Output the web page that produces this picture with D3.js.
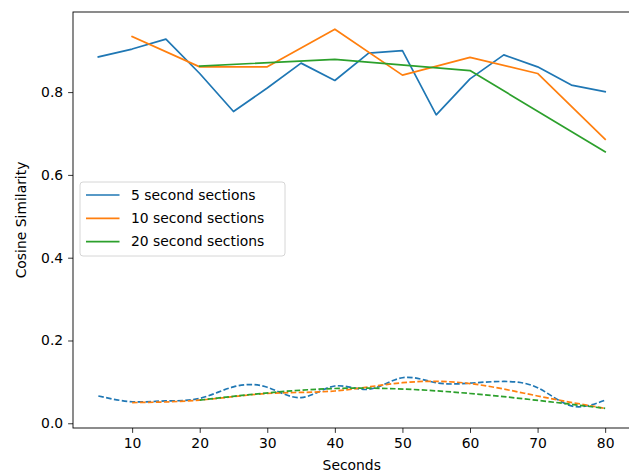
<!DOCTYPE html>
<html>
<head>
<meta charset="utf-8">
<script src="https://cdn.jsdelivr.net/npm/d3@7"></script>
<style>
  html, body { margin: 0; padding: 0; background: #fff; }
  svg { display: block; }
  text { font-family: "DejaVu Sans", sans-serif; fill: #000; }
</style>
</head>
<body>
<svg id="chart" width="629" height="475"></svg>
<script>
// ---- data ----
const seconds5  = [5, 10, 15, 20, 25, 30, 35, 40, 45, 50, 55, 60, 65, 70, 75, 80];
const seconds10 = [10, 20, 30, 40, 50, 60, 70, 80];
const seconds20 = [20, 40, 60, 80];

const sim5  = [0.885, 0.904, 0.928, 0.845, 0.753, 0.810, 0.870, 0.828, 0.894, 0.900, 0.745, 0.832, 0.890, 0.861, 0.817, 0.801];
const sim10 = [0.934, 0.861, 0.861, 0.952, 0.841, 0.884, 0.845, 0.686];
const sim20 = [0.863, 0.879, 0.852, 0.656];

const base5  = [0.066, 0.052, 0.054, 0.060, 0.088, 0.087, 0.062, 0.090, 0.082, 0.110, 0.098, 0.097, 0.101, 0.086, 0.042, 0.056];
const base10 = [0.050, 0.056, 0.072, 0.078, 0.098, 0.096, 0.066, 0.036];
const base20 = [0.056, 0.084, 0.072, 0.036];

const seriesNames = ["5 second sections", "10 second sections", "20 second sections"];
const colors = ["#1f77b4", "#ff7f0e", "#2ca02c"];
const xTicks = [10, 20, 30, 40, 50, 60, 70, 80];
const yTicks = [0.0, 0.2, 0.4, 0.6, 0.8];

(function () {
// ---- layout ----
const svg = d3.select("#chart");
const pL = 73, pR = 630.5, pT = 12, pB = 428;

const x = d3.scaleLinear().domain([1.25, 83.75]).range([pL, pR]);
const y = d3.scaleLinear().domain([-0.0114, 0.9935]).range([pB, pT]);

const fs = 13.9;
const lw = 1.7;

// axes
const xAxis = svg.append("g").attr("transform", `translate(0,${pB})`)
  .call(d3.axisBottom(x).tickValues(xTicks).tickSize(4.9).tickPadding(4.9).tickFormat(d3.format("d")));
const yAxis = svg.append("g").attr("transform", `translate(${pL},0)`)
  .call(d3.axisLeft(y).tickValues(yTicks).tickSize(4.9).tickPadding(4.9).tickFormat(d3.format(".1f")));
[xAxis, yAxis].forEach(g => {
  g.select(".domain").remove();
  g.selectAll(".tick line").attr("stroke", "#000").attr("stroke-width", 0.8);
  g.selectAll(".tick text").attr("font-size", fs).attr("font-family", "DejaVu Sans, sans-serif").attr("fill", "#222");
});

// frame
svg.append("rect").attr("x", pL).attr("y", pT)
  .attr("width", pR - pL).attr("height", pB - pT)
  .attr("fill", "none").attr("stroke", "#000").attr("stroke-width", 0.9);

// labels
svg.append("text").attr("x", (pL + pR) / 2).attr("y", 470)
  .attr("text-anchor", "middle").attr("font-size", fs).attr("fill", "#222").text("Seconds");
svg.append("text").attr("transform", `translate(26,${(pT + pB) / 2}) rotate(-90)`)
  .attr("text-anchor", "middle").attr("font-size", fs).attr("fill", "#222").text("Cosine Similarity");

// lines
const plot = svg.append("g");
const solid = d3.line().x(d => x(d[0])).y(d => y(d[1]));
const smooth = d3.line().x(d => x(d[0])).y(d => y(d[1])).curve(d3.curveNatural);

const solidSets = [[seconds5, sim5], [seconds10, sim10], [seconds20, sim20]];
const dashSets  = [[seconds5, base5], [seconds10, base10], [seconds20, base20]];

solidSets.forEach(([xs, ys], i) => {
  plot.append("path").datum(xs.map((v, j) => [v, ys[j]]))
    .attr("d", solid).attr("fill", "none").attr("stroke", colors[i])
    .attr("stroke-width", lw).attr("stroke-linejoin", "round").attr("stroke-linecap", "square");
});
dashSets.forEach(([xs, ys], i) => {
  plot.append("path").datum(xs.map((v, j) => [v, ys[j]]))
    .attr("d", smooth).attr("fill", "none").attr("stroke", colors[i])
    .attr("stroke-width", lw).attr("stroke-dasharray", "5.55,2.4");
});

// legend
const lg = svg.append("g");
lg.append("rect").attr("x", 80).attr("y", 182).attr("width", 205).attr("height", 74)
  .attr("rx", 3).attr("fill", "#fff").attr("fill-opacity", 0.8)
  .attr("stroke", "#cccccc").attr("stroke-width", 0.8);
seriesNames.forEach((name, i) => {
  const yy = 195 + i * 23.3;
  lg.append("line").attr("x1", 86).attr("x2", 119.5).attr("y1", yy).attr("y2", yy)
    .attr("stroke", colors[i]).attr("stroke-width", lw);
  lg.append("text").attr("x", 131).attr("y", yy).attr("dy", "0.35em")
    .attr("font-size", fs).attr("fill", "#222").text(name);
});
})();
</script>
</body>
</html>
